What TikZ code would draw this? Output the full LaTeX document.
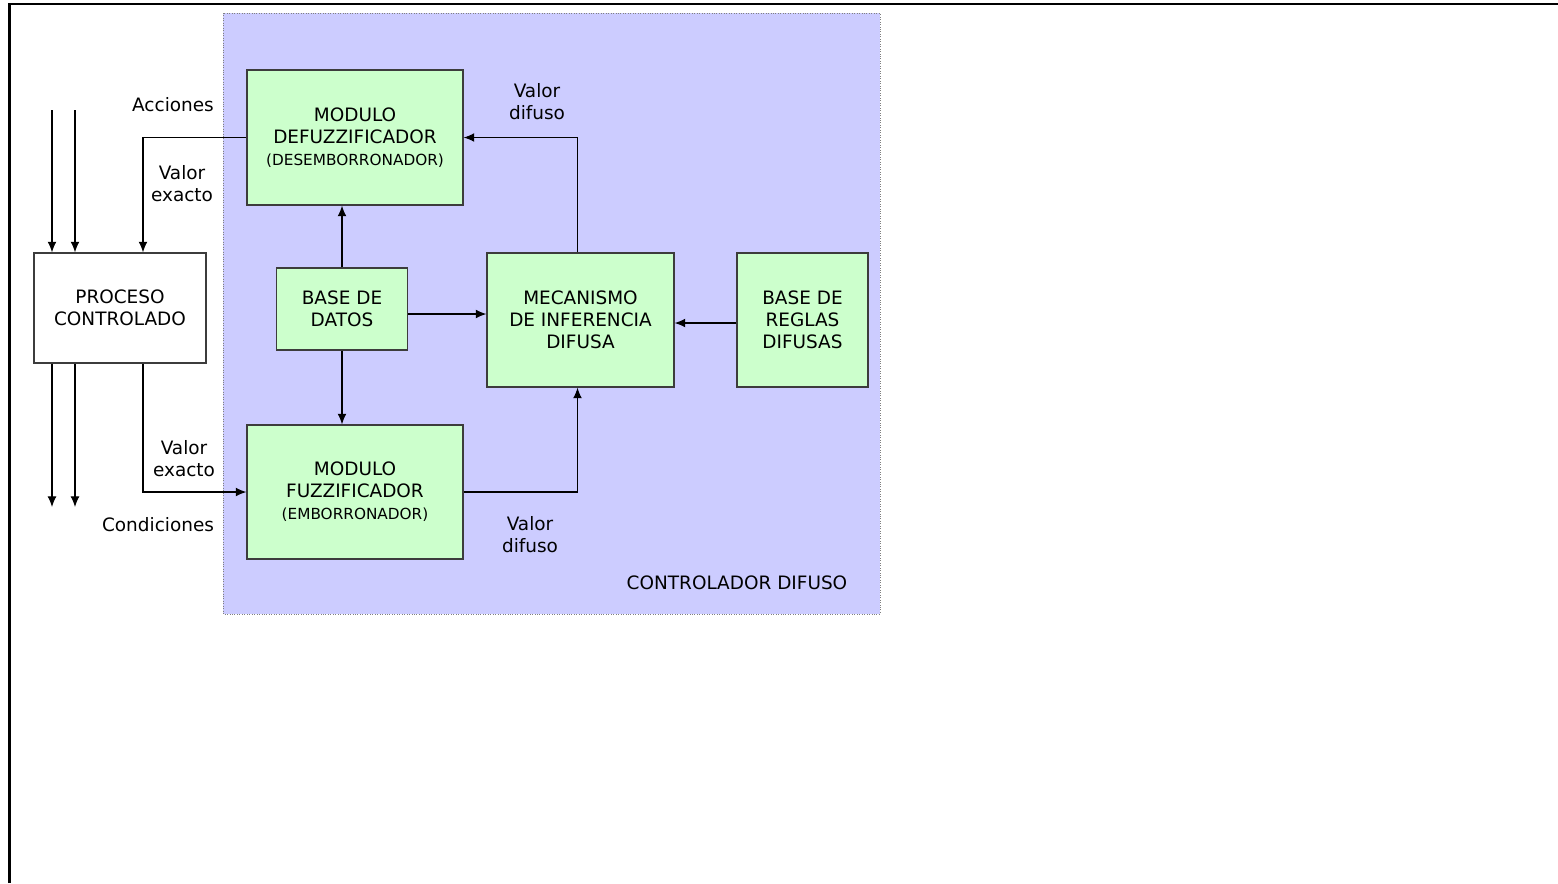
\documentclass[tikz,border=0pt]{standalone}
\usepackage{fontspec}
\setmainfont{DejaVu Sans}
\usepackage{xcolor}
\usepackage{tikz}
\usetikzlibrary{calc, positioning, arrows.meta}

\definecolor{ctrlblue}{RGB}{204,204,255}
\definecolor{modgreen}{RGB}{204,255,204}
\definecolor{edgegray}{RGB}{60,60,60}

\tikzset{
  modulo/.style={draw=edgegray, fill=modgreen, line width=0.8pt, align=center, inner sep=0pt,
                 font=\fontsize{10.5}{12.5}\selectfont},
  etiqueta/.style={align=center, inner sep=0pt, font=\fontsize{10.5}{12.5}\selectfont},
  flecha/.style={->, line width=0.6pt}
}
\newcommand{\chico}[1]{{\fontsize{8.7}{10}\selectfont #1}}

\begin{document}
\begin{tikzpicture}[>={Latex[length=6pt,width=5pt]}, x=0.02cm, y=-0.02cm]
            \useasboundingbox (0,0) rectangle (1558,883);
            \draw[line width=1.7pt] (9.5,883) |- (1558,4);
            \draw[densely dotted, draw=gray, fill=ctrlblue] (223,13) rectangle (880,614);
            
            \node[modulo, minimum width=4.32cm, minimum height=2.7cm] (defuz) at (355,137.5)
                {MODULO\\DEFUZZIFICADOR\\\chico{(DESEMBORRONADOR)}};
            \node[modulo, minimum width=4.32cm, minimum height=2.68cm] (fuz) at (355,492)
                {MODULO\\FUZZIFICADOR\\\chico{(EMBORRONADOR)}};
            \node[modulo, minimum width=2.62cm, minimum height=1.64cm] (datos) at (342,309)
                {BASE DE\\DATOS};
            \node[modulo, minimum width=3.74cm, minimum height=2.68cm] (motor) at (580.5,320)
                {MECANISMO\\DE INFERENCIA\\DIFUSA};
            \node[modulo, minimum width=2.62cm, minimum height=2.68cm] (reglas) at (802.5,320)
                {BASE DE\\REGLAS\\DIFUSAS};
            \node[modulo, fill=white, minimum width=3.44cm, minimum height=2.2cm] (proceso) at (120,308)
                {PROCESO\\CONTROLADO};
            
            \node[etiqueta] (acc) at (173,105) {Acciones};
            \node[etiqueta] (vex1) at (182,184) {Valor\\exacto};
            \node[etiqueta] (vex2) at (184,459) {Valor\\exacto};
            \node[etiqueta] (cond) at (158,525) {Condiciones};
            \node[etiqueta] (vdf1) at (537,102) {Valor\\difuso};
            \node[etiqueta] (vdf2) at (530,535) {Valor\\difuso};
            \node[etiqueta] (ctrl) at (737,583) {CONTROLADOR DIFUSO};
            
            \coordinate (in1) at (52,110);
            \coordinate (in2) at (75,110);
            \coordinate (out1) at (52,507);
            \coordinate (out2) at (75,507);
            \coordinate (pin) at ($(proceso.north)+(23,0)$);
            \coordinate (pout) at ($(proceso.south)+(23,0)$);
            \coordinate (dsal) at ($(datos.east)+(0,5)$);
            \coordinate (rsal) at ($(reglas.west)+(0,3)$);
            \coordinate (msub) at ($(motor.north)+(-3,0)$);
            \coordinate (mbaj) at ($(motor.south)+(-3,0)$);
            
            \draw[flecha] (in1) -- (in1 |- proceso.north);
            \draw[flecha] (in2) -- (in2 |- proceso.north);
            \draw[flecha] (out1 |- proceso.south) -- (out1);
            \draw[flecha] (out2 |- proceso.south) -- (out2);
            \draw[flecha] (defuz.west) -| (pin);
            \draw[flecha] (pout) |- (fuz.west);
            \draw[flecha] (fuz.east) -| (mbaj);
            \draw[flecha] (msub) |- (defuz.east);
            \draw[flecha] (datos.north) -- (datos.north |- defuz.south);
            \draw[flecha] (datos.south) -- (datos.south |- fuz.north);
            \draw[flecha] (dsal) -- (dsal -| motor.west);
            \draw[flecha] (rsal) -- (rsal -| motor.east);
        \end{tikzpicture}
\end{document}
